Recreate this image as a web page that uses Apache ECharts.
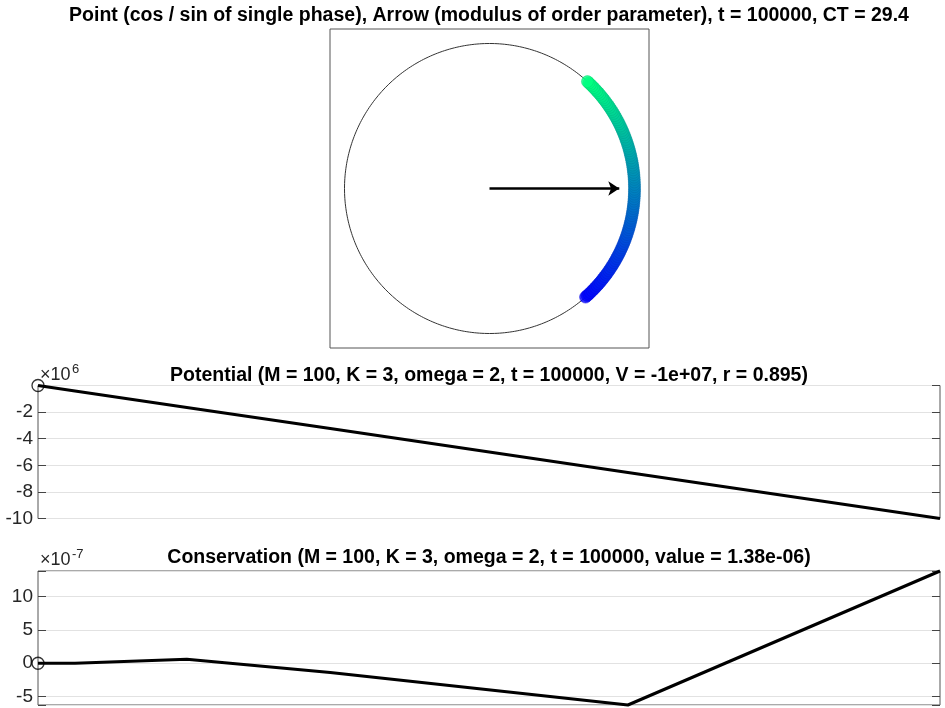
<!DOCTYPE html>
<html>
<head>
<meta charset="utf-8">
<script src="https://cdn.jsdelivr.net/npm/echarts@6/dist/echarts.min.js"></script>
<style>html,body{margin:0;padding:0;background:#fff}#c{width:945px;height:708px}</style>
</head>
<body>
<div id="c"></div>
<script>
// ---- data ----
// phase of each oscillator (degrees), ordered by index (colour)
const phaseDeg = [-48.5, -47.6, -46.8, -45.9, -44.9, -44.0, -43.1, -42.1, -41.2, -40.3,
  -39.3, -38.4, -37.4, -36.5, -35.6, -34.6, -33.7, -32.7, -31.8, -30.8,
  -29.9, -28.9, -28.0, -27.0, -26.1, -25.1, -24.2, -23.2, -22.3, -21.3,
  -20.4, -19.4, -18.5, -17.5, -16.5, -15.6, -14.6, -13.7, -12.7, -11.8,
  -10.8, -9.8, -8.9, -7.9, -7.0, -6.0, -5.0, -4.1, -3.1, -2.2,
  -1.2, -0.3, 0.7, 1.6, 2.6, 3.6, 4.5, 5.5, 6.4, 7.4,
  8.4, 9.3, 10.3, 11.2, 12.2, 13.2, 14.1, 15.1, 16.0, 17.0,
  17.9, 18.9, 19.8, 20.8, 21.7, 22.7, 23.6, 24.6, 25.5, 26.5,
  27.4, 28.3, 29.3, 30.2, 31.2, 32.1, 33.0, 34.0, 34.9, 35.8,
  36.8, 37.7, 38.6, 39.5, 40.5, 41.4, 42.3, 43.2, 44.1, 45.0,
  45.9, 46.7, 47.5];
const orderR = 0.895;      // modulus of order parameter
const orderPsiDeg = 0;     // phase of order parameter
const tSamples = [0, 4100, 16500, 32400, 65400, 100000];
const potential = [0, -410000, -1650000, -3240000, -6540000, -10000000];
const conservation = [0, -0.02e-7, 0.6e-7, -1.4e-7, -6.25e-7, 13.8e-7];
const potTicks = [-2, -4, -6, -8, -10];
const consTicks = [-5, 0, 5, 10];

const titleTop = 'Point (cos / sin of single phase), Arrow (modulus of order parameter), t = 100000, CT = 29.4';
const titleMid = 'Potential (M = 100, K = 3, omega = 2, t = 100000, V = -1e+07, r = 0.895)';
const titleBot = 'Conservation (M = 100, K = 3, omega = 2, t = 100000, value = 1.38e-06)';

// ---- helpers ----
const FONT = '"Liberation Sans", Arial, Helvetica, sans-serif';
function winter(f) { // MATLAB winter colormap
  const g = Math.round(255 * f), b = Math.round(255 * (1 - 0.5 * f));
  return 'rgb(0,' + g + ',' + b + ')';
}
function winterDark(f) {
  const g = Math.round(215 * f), b = Math.round(225 * (1 - 0.5 * f));
  return 'rgb(0,' + g + ',' + b + ')';
}
const rad = d => d * Math.PI / 180;
const n = phaseDeg.length;
const phasePts = phaseDeg.map((d, i) => ({
  value: [Math.cos(rad(d)), Math.sin(rad(d))],
  itemStyle: { color: winter(i / (n - 1)), borderColor: winterDark(i / (n - 1)), borderWidth: 0.6 }
}));
const unitCircle = [];
for (let a = 0; a <= 360; a += 1) unitCircle.push([Math.cos(rad(a)), Math.sin(rad(a))]);

const potData = tSamples.map((t, i) => [t, potential[i]]);
const consData = tSamples.map((t, i) => [t, conservation[i]]);

function tickFmt(list, scale) {
  return function (v) {
    const u = v / scale;
    for (const k of list) if (Math.abs(u - k) < 1e-6) return String(k);
    return '';
  };
}
const tickCol = '#444';
const labelStyle = { fontSize: 19, color: '#262626', fontFamily: FONT, margin: 5 };
function yPair(grid, extra, fmt) {
  const left = Object.assign({
    gridIndex: grid, type: 'value', position: 'left',
    axisLine: { show: false },
    axisTick: { show: true, inside: true, length: 8, lineStyle: { color: tickCol, width: 1 } },
    axisLabel: Object.assign({ formatter: fmt }, labelStyle),
    splitLine: { show: true, lineStyle: { color: '#e2e2e2', width: 1 } }
  }, extra);
  const right = Object.assign({
    gridIndex: grid, type: 'value', position: 'right',
    axisLine: { show: false },
    axisTick: { show: true, inside: true, length: 8, lineStyle: { color: tickCol, width: 1 } },
    axisLabel: { show: false },
    splitLine: { show: false }
  }, extra);
  return [left, right];
}

const chart = echarts.init(document.getElementById('c'), null, { renderer: 'canvas', width: 945, height: 708 });
const option = {
  animation: false,
  backgroundColor: '#fff',
  grid: [
    { left: 330, top: 29, width: 319, height: 319, show: true, borderColor: '#555', borderWidth: 1 },
    { left: 38, top: 385.5, width: 902, height: 133, show: true, borderColor: '#555', borderWidth: 1 },
    { left: 38, top: 571, width: 902, height: 134, show: true, borderColor: '#555', borderWidth: 1 }
  ],
  xAxis: [
    { gridIndex: 0, type: 'value', min: -1.1, max: 1.1, show: false },
    { gridIndex: 1, type: 'value', min: 0, max: 100000, show: false },
    { gridIndex: 2, type: 'value', min: 0, max: 100000, show: false }
  ],
  yAxis: [
    { gridIndex: 0, type: 'value', min: -1.1, max: 1.1, show: false },
    ...yPair(1, { min: -10000000, max: 0, interval: 2000000 }, tickFmt(potTicks, 1e6)),
    ...yPair(2, { min: -6.25e-7, max: 13.8e-7, splitNumber: 4 }, tickFmt(consTicks, 1e-7))
  ],
  series: [
    { type: 'line', xAxisIndex: 0, yAxisIndex: 0, data: unitCircle, showSymbol: false, symbol: 'none',
      lineStyle: { color: '#333', width: 1 }, silent: true, z: 1 },
    { type: 'scatter', xAxisIndex: 0, yAxisIndex: 0, data: phasePts, symbolSize: 12, clip: false, z: 5 },
    { type: 'lines', coordinateSystem: 'cartesian2d', xAxisIndex: 0, yAxisIndex: 0, z: 6,
      data: [{ coords: [[0, 0], [orderR * Math.cos(rad(orderPsiDeg)), orderR * Math.sin(rad(orderPsiDeg))]] }],
      symbol: ['none', 'arrow'], symbolSize: 11,
      lineStyle: { color: '#000', width: 2.5, opacity: 1, curveness: 0 } },
    { type: 'line', xAxisIndex: 1, yAxisIndex: 1, data: potData, symbol: 'none', clip: false,
      lineStyle: { color: '#000', width: 3 } },
    { type: 'scatter', xAxisIndex: 1, yAxisIndex: 1, data: [potData[0]], symbol: 'circle', symbolSize: 12, clip: false,
      itemStyle: { color: 'rgba(0,0,0,0)', borderColor: '#000', borderWidth: 1.3 } },
    { type: 'line', xAxisIndex: 2, yAxisIndex: 3, data: consData, symbol: 'none', clip: false,
      lineStyle: { color: '#000', width: 3 } },
    { type: 'scatter', xAxisIndex: 2, yAxisIndex: 3, data: [consData[0]], symbol: 'circle', symbolSize: 12, clip: false,
      itemStyle: { color: 'rgba(0,0,0,0)', borderColor: '#000', borderWidth: 1.3 } }
  ],
  graphic: [
    { type: 'text', x: 489, y: 16, style: { text: titleTop, font: 'bold 19.5px ' + FONT, fill: '#000', textAlign: 'center', textVerticalAlign: 'middle' } },
    { type: 'text', x: 489, y: 376, style: { text: titleMid, font: 'bold 19.5px ' + FONT, fill: '#000', textAlign: 'center', textVerticalAlign: 'middle' } },
    { type: 'text', x: 489, y: 558, style: { text: titleBot, font: 'bold 19.5px ' + FONT, fill: '#000', textAlign: 'center', textVerticalAlign: 'middle' } },
    { type: 'text', x: 40, y: 384, style: { text: '\u00d710', font: '18px ' + FONT, fill: '#262626', textAlign: 'left', textVerticalAlign: 'bottom' } },
    { type: 'text', x: 72, y: 376, style: { text: '6', font: '13px ' + FONT, fill: '#262626', textAlign: 'left', textVerticalAlign: 'bottom' } },
    { type: 'text', x: 40, y: 569, style: { text: '\u00d710', font: '18px ' + FONT, fill: '#262626', textAlign: 'left', textVerticalAlign: 'bottom' } },
    { type: 'text', x: 72, y: 561, style: { text: '-7', font: '13px ' + FONT, fill: '#262626', textAlign: 'left', textVerticalAlign: 'bottom' } }
  ]
};
chart.setOption(option);
</script>
</body>
</html>
